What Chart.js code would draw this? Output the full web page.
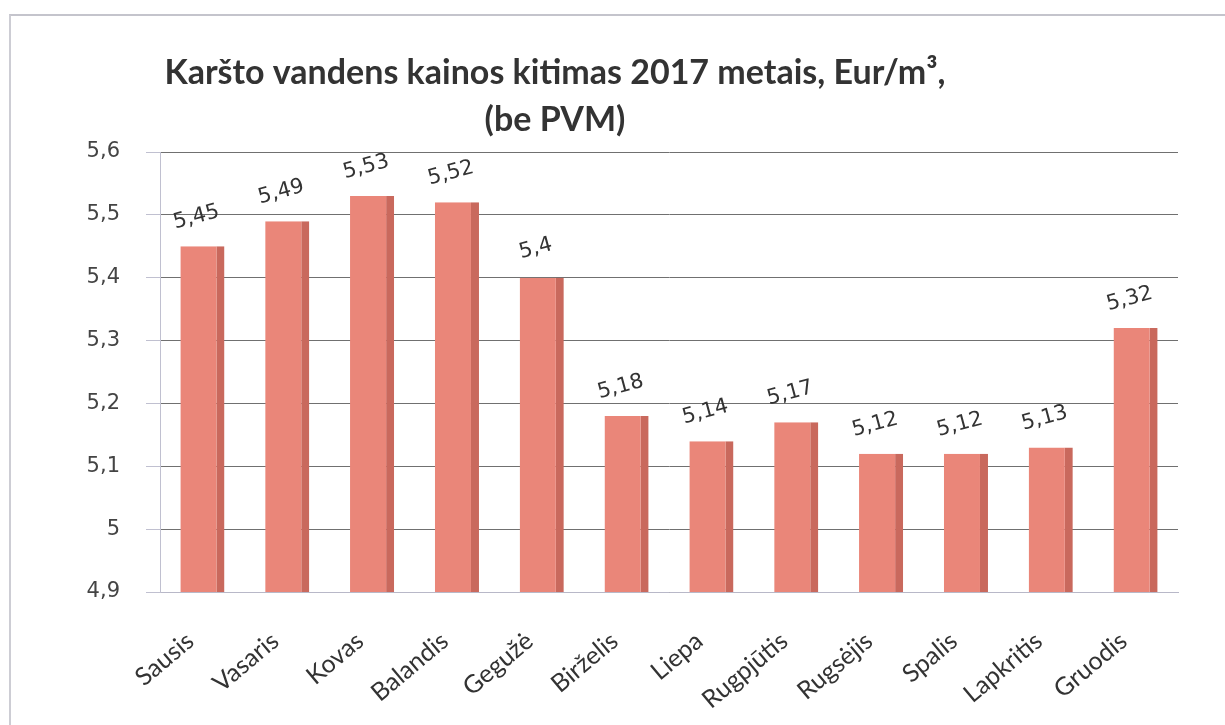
<!DOCTYPE html>
<html>
<head>
<meta charset="utf-8">
<script src="https://cdn.jsdelivr.net/npm/chart.js@4"></script>
<style>
  html, body { margin: 0; padding: 0; background: #fff; }
  #wrap { position: relative; width: 1225px; height: 725px; }
  #frame {
    position: absolute; left: 9px; top: 14px; right: -2px; bottom: -2px;
    border-top: 2px solid #c4c4cc; border-left: 2px solid #cdcdd4;
  }
  canvas { position: absolute; left: 0; top: 0; }
</style>
</head>
<body>
<div id="wrap">
  <div id="frame"></div>
  <canvas id="chart" width="1225" height="725"></canvas>
</div>
<script>
// Chart data
const months = ['Sausis', 'Vasaris', 'Kovas', 'Balandis', 'Gegužė', 'Birželis',
  'Liepa', 'Rugpjūtis', 'Rugsėjis', 'Spalis', 'Lapkritis', 'Gruodis'];
const prices = [5.45, 5.49, 5.53, 5.52, 5.4, 5.18, 5.14, 5.17, 5.12, 5.12, 5.13, 5.32];
const yTickLabels = ['4,9', '5', '5,1', '5,2', '5,3', '5,4', '5,5', '5,6'];
const titleLines = ['Karšto vandens kainos kitimas 2017 metais, Eur/m³,', '(be PVM)'];

// Draws the two-line title slightly left of centre, like the original
const titlePlugin = {
  id: 'titleText',
  afterDraw(chart) {
    const ctx = chart.ctx;
    ctx.save();
    ctx.fillStyle = '#333';
    ctx.font = 'bold 34px Lato, sans-serif';
    ctx.textAlign = 'center';
    ctx.textBaseline = 'middle';
    ctx.fillText(titleLines[0], 555, 73);
    ctx.fillText(titleLines[1], 555, 120);
    ctx.restore();
  }
};

// Value labels above each bar, slightly tilted
const valueLabels = {
  id: 'valueLabels',
  afterDatasetsDraw(chart) {
    const ctx = chart.ctx;
    const meta = chart.getDatasetMeta(0);
    ctx.save();
    ctx.fillStyle = '#333';
    ctx.font = '21px "DejaVu Sans", sans-serif';
    ctx.textAlign = 'center';
    ctx.textBaseline = 'middle';
    meta.data.forEach((bar, i) => {
      ctx.save();
      ctx.translate(bar.x - 6, bar.y - 29);
      ctx.rotate(-15 * Math.PI / 180);
      ctx.fillText(String(prices[i]).replace('.', ','), 0, 0);
      ctx.restore();
    });
    ctx.restore();
  }
};

new Chart(document.getElementById('chart'), {
  type: 'bar',
  data: {
    labels: months,
    datasets: [{
      data: prices,
      backgroundColor: '#ea8679',
      borderColor: '#c9695d',
      borderWidth: { right: 8, top: 0, left: 0, bottom: 0 },
      borderSkipped: false,
      barPercentage: 0.52,
      categoryPercentage: 1,
    }],
  },
  options: {
    responsive: false,
    animation: false,
    layout: { padding: { top: 152, right: 47, left: 0, bottom: 0 } },
    plugins: {
      legend: { display: false },
      tooltip: { enabled: false },
    },
    scales: {
      x: {
        grid: { display: false },
        border: { color: '#b8b8c8' },
        ticks: {
          color: '#333',
          font: { family: 'Lato, sans-serif', size: 25 },
          minRotation: 40,
          maxRotation: 40,
          padding: 26,
          labelOffset: -12,
        },
        afterFit(scale) { scale.height = 133; },
      },
      y: {
        min: 4.9,
        max: 5.6,
        ticks: {
          stepSize: 0.1,
          color: '#444',
          font: { family: '"DejaVu Sans", sans-serif', size: 21 },
          padding: 26,
          callback: (v, i) => yTickLabels[i],
        },
        grid: { color: '#707070', tickLength: 14, tickColor: '#c0c0d0' },
        border: { color: '#c0c0d0' },
        afterFit(scale) { scale.width = 160; },
      },
    },
  },
  plugins: [titlePlugin, valueLabels],
});
</script>
</body>
</html>
